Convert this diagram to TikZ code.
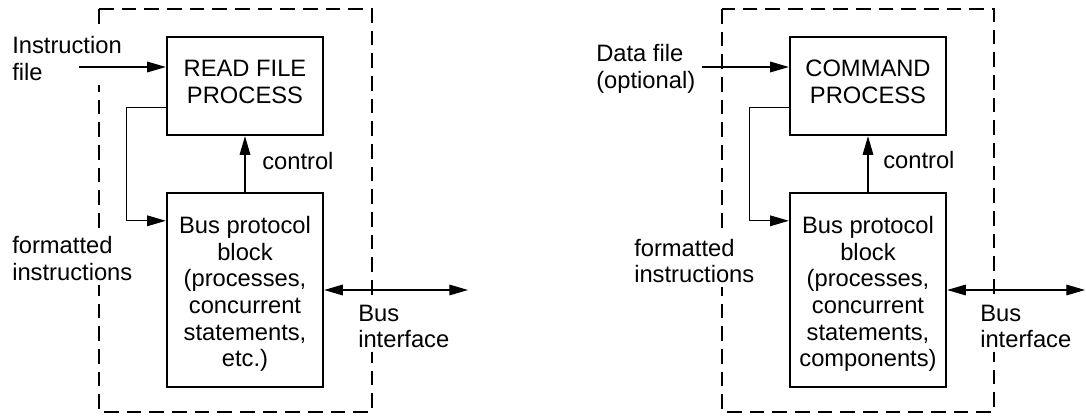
\documentclass[tikz,border=0pt]{standalone}
\usepackage{fontspec}
\setmainfont{Liberation Sans}
\usetikzlibrary{arrows.meta}
\begin{document}
\begin{tikzpicture}[x=0.75pt,y=-0.75pt,
  every node/.style={font=\fontsize{17.8pt}{20pt}\selectfont},
  procbox/.style={draw, line width=1.8pt, minimum width=117pt, inner sep=0pt},
  topbox/.style={procbox, minimum height=73.5pt},
  busbox/.style={procbox, minimum height=145.5pt},
  boxtext/.style={align=center, inner sep=0pt},
  frame/.style={line width=1.8pt, dash pattern=on 11pt off 6pt},
  lbl/.style={align=left, anchor=west, fill=white, inner sep=3pt},
  conn/.style={line width=0.8pt, -{Triangle[length=14pt,width=8pt]}},
  bidir/.style={line width=0.8pt, {Triangle[length=14pt,width=8pt]}-{Triangle[length=14pt,width=8pt]}},
]
\useasboundingbox (0,0) rectangle (1086,418);

% ---------- left panel ----------
\draw[frame] (99,9) rectangle (372,412);
\node[topbox] (rfp) at (245,86) {};
\node[boxtext] (rfptext) at ([yshift=3pt]rfp.center) {READ FILE\\PROCESS};
\node[busbox] (bpbL) at (245,290) {};
\node[boxtext] (bpbLtext) at ([yshift=-3pt]bpbL.center) {Bus protocol\\block\\(processes,\\concurrent\\statements,\\etc.)};
\node[lbl] (instr) at (8,58.5) {Instruction\\file};
\node[lbl] (fmtL) at (8,258.5) {formatted\\instructions};
\node[lbl] (busifL) at (354,326.5) {Bus\\interface};
\node[lbl] (ctrlL) at (258,161) {control};
\coordinate (inL) at (79,67);
\coordinate (busL) at (468,290);
\draw[conn] (inL) -- (inL -| rfp.west);
\draw[conn] ([yshift=21.75pt]rfp.south west) -- ++(-39,0) |- ([yshift=-21.75pt]bpbL.north west);
\draw[conn] (bpbL.north) -- (rfp.south);
\draw[bidir] (bpbL.east) -- (busL);

% ---------- right panel ----------
\draw[frame] (722,9) rectangle (994,412);
\node[topbox] (cmd) at (868,86) {};
\node[boxtext] (cmdtext) at ([yshift=3pt]cmd.center) {COMMAND\\PROCESS};
\node[busbox] (bpbR) at (868,290) {};
\node[boxtext] (bpbRtext) at ([yshift=-3pt]bpbR.center) {Bus protocol\\block\\(processes,\\concurrent\\statements,\\components)};
\node[lbl] (data) at (592,69) {Data file\\(optional)};
\node[lbl] (fmtR) at (630,261) {formatted\\instructions};
\node[lbl] (busifR) at (976,326.5) {Bus\\interface};
\node[lbl] (ctrlR) at (879,160) {control};
\coordinate (inR) at (702,67);
\coordinate (busR) at (1085,290);
\draw[conn] (inR) -- (inR -| cmd.west);
\draw[conn] ([yshift=21.75pt]cmd.south west) -- ++(-39,0) |- ([yshift=-21.75pt]bpbR.north west);
\draw[conn] (bpbR.north) -- (cmd.south);
\draw[bidir] (bpbR.east) -- (busR);
\end{tikzpicture}
\end{document}
